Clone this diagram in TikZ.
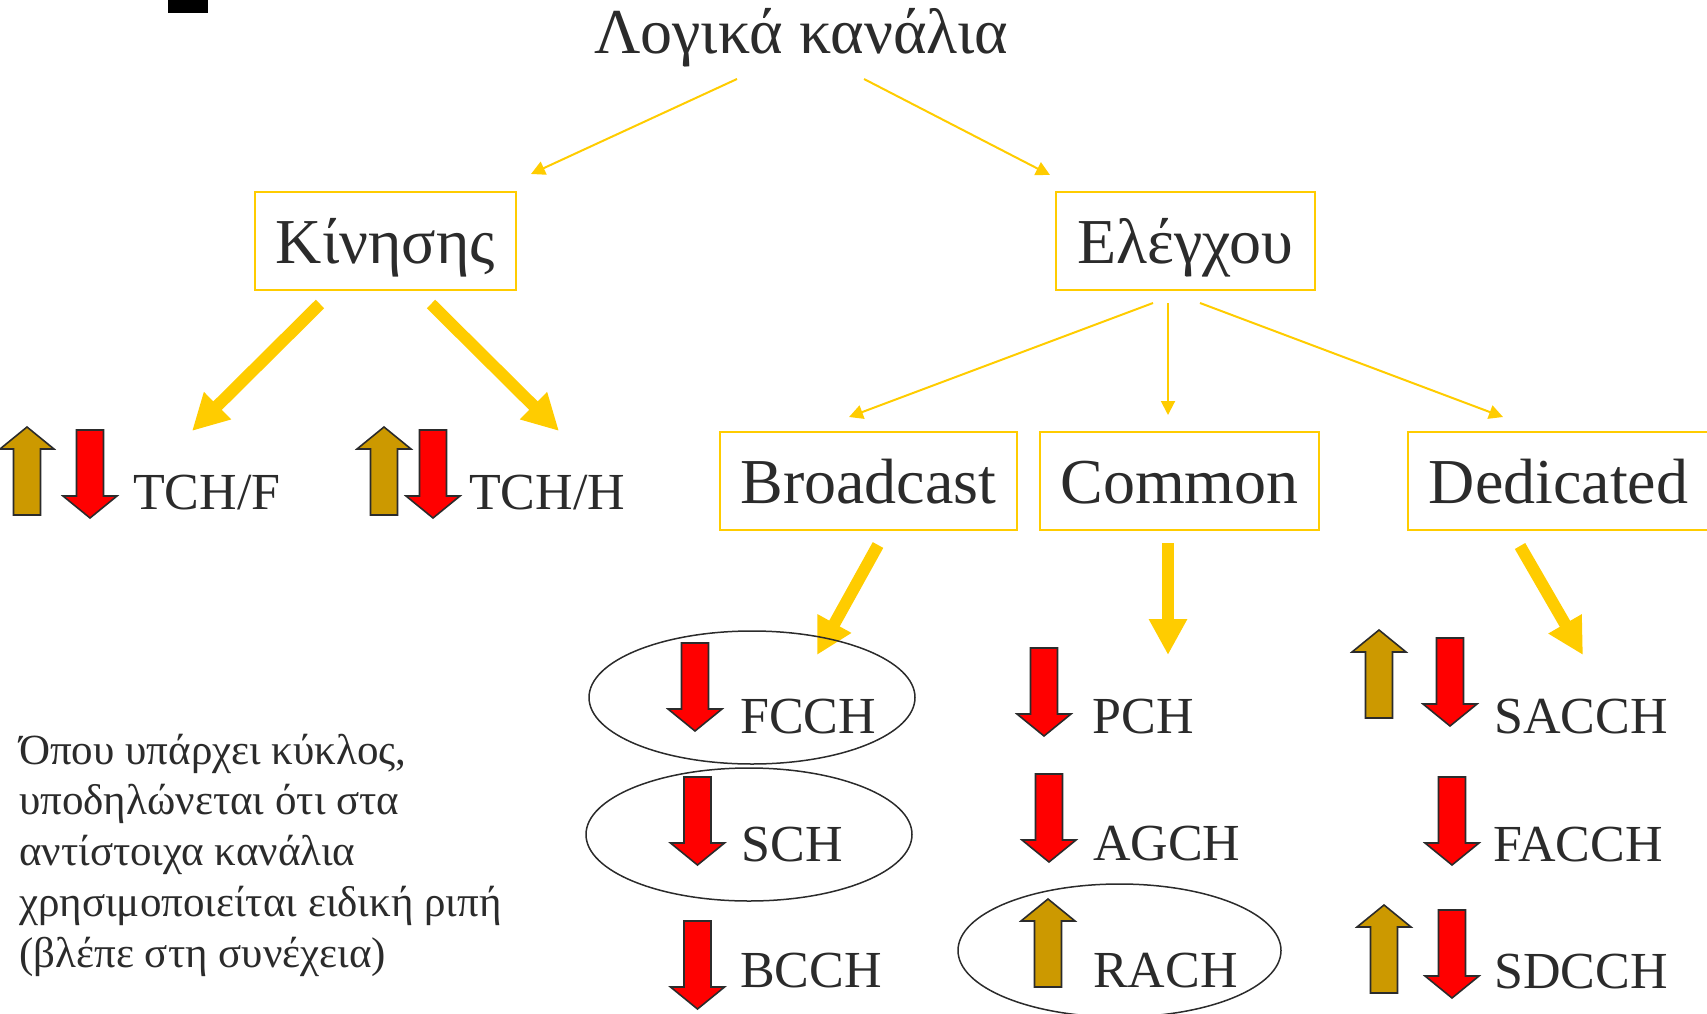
\documentclass[tikz,border=0pt]{standalone}
\usepackage{fontspec}
\setmainfont{Liberation Serif}
\usetikzlibrary{arrows.meta,shapes.geometric}
\definecolor{ylw}{HTML}{FFCC00}
\definecolor{gld}{HTML}{CC9900}
\definecolor{rd}{HTML}{FF0000}
\definecolor{ink}{HTML}{2B2B2B}
\newcommand\DnArr[2]{\draw[blkarr,fill=rd] (#1-13.5,#2) -- ++(27,0) -- ++(0,66) -- ++(13.5,0) -- ++(-27,22) -- ++(-27,-22) -- ++(13.5,0) -- cycle;}
\newcommand\UpArr[2]{\draw[blkarr,fill=gld] (#1,#2) -- ++(27,22) -- ++(-13.5,0) -- ++(0,66) -- ++(-27,0) -- ++(0,-66) -- ++(-13.5,0) -- cycle;}
\tikzset{
  blkarr/.style={draw=ink,line width=1.6pt,line join=miter},
  ybox/.style={draw=ylw,line width=2pt,inner sep=0pt,text=ink,
    font=\fontsize{64}{64}\selectfont,text height=46pt,text depth=0pt,minimum height=98pt},
  chan/.style={anchor=base west,inner sep=0pt,text=ink,font=\fontsize{52}{52}\selectfont},
  thinarr/.style={draw=ylw,line width=2pt,-{Triangle[length=14pt,width=14pt]}},
  thickarr/.style={draw=ylw,line width=12pt,-{Triangle[length=36pt,width=36pt]}},
  ring/.style={ellipse,draw=ink,line width=1.5pt,inner sep=0pt},
}
\begin{document}
\begin{tikzpicture}[x=1pt,y=-1pt]
\useasboundingbox (0,0) rectangle (1707,1014);
\fill[black] (168,0) rectangle (208,13);
% title and boxes
\node[anchor=base,inner sep=0pt,text=ink,font=\fontsize{64}{64}\selectfont] (title) at (801,54) {Λογικά κανάλια};
\node[ybox,minimum width=261pt] (kin) at (385.5,240.5) {Κίνησης};
\node[ybox,minimum width=259pt] (ele) at (1185.5,240.5) {Ελέγχου};
\node[ybox,minimum width=297pt] (brd) at (868.5,480.5) {Broadcast};
\node[ybox,minimum width=279pt] (com) at (1179.5,480.5) {Common};
\node[ybox,minimum width=301pt] (ded) at (1558.5,480.5) {Dedicated};
% channel labels
\node[chan] (tchf) at (133,509) {TCH/F};
\node[chan] (tchh) at (469,509) {TCH/H};
\node[chan] (fcch) at (740,733) {FCCH};
\node[chan] (sch) at (741.5,861) {SCH};
\node[chan] (bcch) at (740,987) {BCCH};
\node[chan] (pch) at (1092.5,733) {PCH};
\node[chan] (agch) at (1093,860) {AGCH};
\node[chan] (rach) at (1093,987) {RACH};
\node[chan] (sacch) at (1494,733) {SACCH};
\node[chan] (facch) at (1493,861) {FACCH};
\node[chan] (sdcch) at (1494,988) {SDCCH};
% connector end points
\coordinate (t1) at (737,79);   \coordinate (k0) at (531,174);
\coordinate (t2) at (864,79);   \coordinate (e0) at (1050,175);
\coordinate (e1) at (1153,303); \coordinate (b0) at (849,417);
\coordinate (e2) at (1168,303); \coordinate (c0) at (1168,415);
\coordinate (e3) at (1200,303); \coordinate (d0) at (1503,417);
\coordinate (k1) at (320,304);  \coordinate (f0) at (192,431);
\coordinate (k2) at (431,304);  \coordinate (h0) at (559,431);
\coordinate (b1) at (878,545);  \coordinate (b2) at (817,655);
\coordinate (c1) at (1168,543); \coordinate (c2) at (1168,655);
\coordinate (d1) at (1520,546); \coordinate (d2) at (1583,655);
% thin connectors
\draw[thinarr] (t1) -- (k0);
\draw[thinarr] (t2) -- (e0);
\draw[thinarr] (e1) -- (b0);
\draw[thinarr] (e2) -- (c0);
\draw[thinarr] (e3) -- (d0);
% thick connectors
\draw[thickarr] (k1) -- (f0);
\draw[thickarr] (k2) -- (h0);
\draw[thickarr] (b1) -- (b2);
\draw[thickarr] (c1) -- (c2);
\draw[thickarr] (d1) -- (d2);
% direction arrows
\UpArr{27}{427}   \DnArr{90}{430}
\UpArr{384}{427}  \DnArr{433}{430}
\DnArr{695}{643}
\DnArr{697.5}{777}
\DnArr{697.5}{921}
\DnArr{1044}{648}
\DnArr{1049}{774}
\UpArr{1048}{899}
\UpArr{1379}{630} \DnArr{1450}{638}
\DnArr{1452}{777}
\UpArr{1384}{905} \DnArr{1452}{910}
% ellipses
\node[ring,minimum width=326pt,minimum height=133pt] (ringf) at (752,697.5) {};
\node[ring,minimum width=326pt,minimum height=133pt] (rings) at (749,834.5) {};
\node[ring,minimum width=323pt,minimum height=133pt] (ringr) at (1119.5,950.5) {};
% note
\node[anchor=base west,inner sep=0pt,text=ink,align=left,font=\fontsize{43}{50.75}\selectfont] (note) at (19,967)
 {Όπου υπάρχει κύκλος,\\υποδηλώνεται ότι στα\\αντίστοιχα κανάλια\\χρησιμοποιείται ειδική ριπή\\(βλέπε στη συνέχεια)};
\end{tikzpicture}
\end{document}
